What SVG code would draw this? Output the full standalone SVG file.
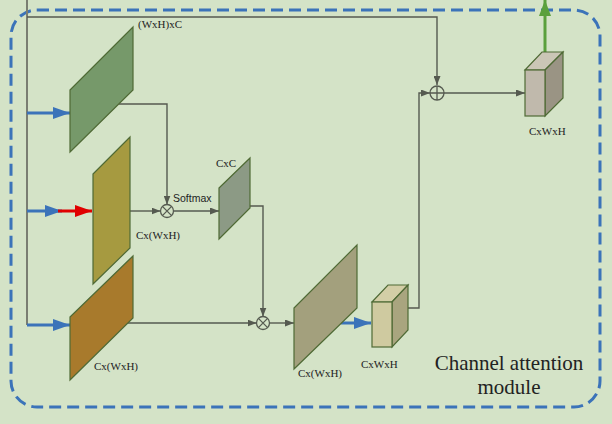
<svg xmlns="http://www.w3.org/2000/svg" width="612" height="424" viewBox="0 0 612 424">
<defs>
<style>
.conn{fill:none;stroke:#555a50;stroke-width:1.4}
.main{fill:none;stroke:#7a7e72;stroke-width:2}
.blue{fill:none;stroke:#3b73b9;stroke-width:3}
.op{fill:none;stroke:#555a50;stroke-width:1.3}
.lbl{font-family:"Liberation Serif","Times New Roman",serif;font-size:11px;fill:#222}
.edge{stroke:#4f6a35;stroke-width:1.2}
.title{font-family:"Liberation Serif","Times New Roman",serif;font-size:21px;fill:#222}
</style>
<marker id="ah" markerWidth="9" markerHeight="7" refX="9" refY="3.5" orient="auto" markerUnits="userSpaceOnUse"><path d="M0,0 L9,3.5 L0,7 z" fill="#555a50"/></marker>
<marker id="bh" markerWidth="17" markerHeight="12" refX="17" refY="6" orient="auto" markerUnits="userSpaceOnUse"><path d="M0,0 L17,6 L0,12 z" fill="#3b73b9"/></marker>
<marker id="rh" markerWidth="17" markerHeight="12" refX="17" refY="6" orient="auto" markerUnits="userSpaceOnUse"><path d="M0,0 L17,6 L0,12 z" fill="#e00000"/></marker>
<marker id="gh" markerWidth="16" markerHeight="12" refX="16" refY="6" orient="auto" markerUnits="userSpaceOnUse"><path d="M0,0 L16,6 L0,12 z" fill="#5aa03c"/></marker>
</defs>
<rect x="0" y="0" width="612" height="424" fill="#d4e3c7"/>
<rect id="module-border" x="11" y="10" width="589" height="397" rx="26" fill="none" stroke="#3b73b9" stroke-width="3" stroke-dasharray="12,6"/>

<g id="connectors">
<path class="main" d="M27,0 V325"/>
<path class="conn" d="M27,17 H437 V85" marker-end="url(#ah)"/>
<path class="blue" d="M27,113 H70" marker-end="url(#bh)"/>
<path class="blue" d="M27,211 H62" marker-end="url(#bh)"/>
<path d="M58,211 H92" fill="none" stroke="#e00000" stroke-width="3" marker-end="url(#rh)"/>
<path class="blue" d="M27,325 H70" marker-end="url(#bh)"/>
<path class="conn" d="M119,104 H167 V204.5" marker-end="url(#ah)"/>
<path class="conn" d="M130,211 H160.5" marker-end="url(#ah)"/>
<path class="conn" d="M173.5,211 H219" marker-end="url(#ah)"/>
<path class="conn" d="M250,206 H263 V316.5" marker-end="url(#ah)"/>
<path class="conn" d="M127,323 H256.5" marker-end="url(#ah)"/>
<path class="conn" d="M269.5,323 H294" marker-end="url(#ah)"/>
<path class="blue" d="M341,323 H371" marker-end="url(#bh)"/>
<path class="conn" d="M408,308 H419 V93 H430" marker-end="url(#ah)"/>
<path class="conn" d="M444,93 H525" marker-end="url(#ah)"/>
<path d="M545,53 V0" fill="none" stroke="#5aa03c" stroke-width="3" marker-end="url(#gh)"/>
</g>

<g id="query">
<polygon class="edge" points="70,90 133,27 133,90 70,152" fill="#76996a"/>
<text class="lbl" x="138" y="28">(WxH)xC</text>
</g>
<g id="key">
<polygon class="edge" points="93,174 130,137 130,248 93,284" fill="#a69a40"/>
<text class="lbl" x="136" y="239">Cx(WxH)</text>
</g>
<g id="value">
<polygon class="edge" points="70,317 133,256 133,318 70,380" fill="#a87a2c"/>
<text class="lbl" x="94" y="370">Cx(WxH)</text>
</g>
<g id="mult1">
<circle class="op" cx="167" cy="211" r="6.5" fill="none"/>
<path class="op" d="M162.4,206.4 L171.6,215.6 M171.6,206.4 L162.4,215.6"/>
<text x="173" y="202" font-family="'Liberation Sans',Arial,sans-serif" font-size="10.5" fill="#222">Softmax</text>
</g>
<g id="attention-map">
<polygon class="edge" points="219,188 250,158 250,208 219,239" fill="#8c9a85"/>
<text class="lbl" x="216" y="167">CxC</text>
</g>
<g id="mult2">
<circle class="op" cx="263" cy="323" r="6.5" fill="none"/>
<path class="op" d="M258.4,318.4 L267.6,327.6 M267.6,318.4 L258.4,327.6"/>
</g>
<g id="weighted">
<polygon class="edge" points="294,308 357,245 357,308 294,369" fill="#a3a07d"/>
<text class="lbl" x="298" y="377">Cx(WxH)</text>
</g>
<g id="reshaped">
<polygon class="edge" points="372,302 388,285 408,285 392,302" fill="#d3cea6"/>
<polygon class="edge" points="392,302 408,285 408,330 392,347" fill="#a9a57f"/>
<rect class="edge" x="372" y="302" width="20" height="45" fill="#cfcaa0"/>
<text class="lbl" x="361" y="368" font-size="10.5">CxWxH</text>
</g>
<g id="sum">
<circle class="op" cx="437" cy="93" r="7" fill="none"/>
<path class="op" d="M430,93 H444 M437,86 V100"/>
</g>
<g id="output">
<polygon class="edge" points="525,70 542,52 563,52 545,70" fill="#cbc6b6"/>
<polygon class="edge" points="545,70 563,52 563,98 545,116" fill="#9a9484"/>
<rect class="edge" x="525" y="70" width="20" height="46" fill="#c0b9ac"/>
<text class="lbl" x="529" y="135">CxWxH</text>
</g>
<g id="title">
<text class="title" x="509" y="370" text-anchor="middle">Channel attention</text>
<text class="title" x="509" y="394" text-anchor="middle">module</text>
</g>
</svg>
